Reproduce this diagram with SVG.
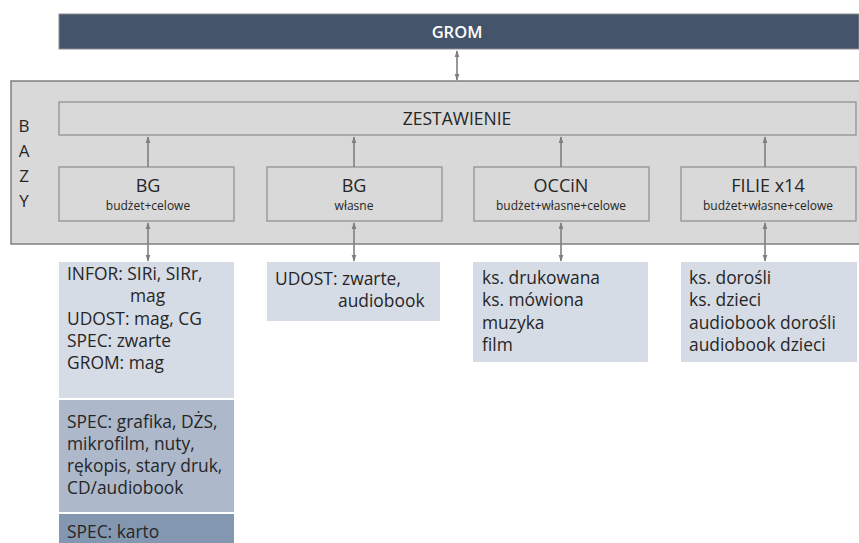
<svg xmlns="http://www.w3.org/2000/svg" width="859" height="543" viewBox="0 0 859 543">
<style>
text{font-family:"Open Sans","Noto Sans",sans-serif;fill:#262626}
.box{fill:#d9d9d9;stroke:#8c8c8c;stroke-width:1.2}
.t{font-size:18px;text-anchor:middle}
.s{font-size:12px;text-anchor:middle}
.l{font-size:17.4px}
.c{stroke:#7f7f7f;stroke-width:1.6;fill:none}
</style>
<defs>
<marker id="ah" viewBox="0 0 10 10" refX="9" refY="5" markerWidth="7" markerHeight="7" orient="auto-start-reverse" markerUnits="userSpaceOnUse">
<path d="M0,1.5 L10,5 L0,8.5 Z" fill="#7f7f7f"/>
</marker>
</defs>
<g id="grom"><rect x="59" y="14" width="800" height="35" fill="#44546a" stroke="#8c8c8c" stroke-width="1"/><text x="457" y="38" style="font-size:16.5px;font-weight:600;fill:#fff;text-anchor:middle">GROM</text></g>
<g id="bazy"><rect x="11" y="81" width="849" height="163" fill="#d9d9d9" stroke="#7f7f7f" stroke-width="1.5"/>
<text x="24" y="132" style="font-size:17px;text-anchor:middle">B</text>
<text x="24" y="157" style="font-size:17px;text-anchor:middle">A</text>
<text x="24" y="182" style="font-size:17px;text-anchor:middle">Z</text>
<text x="24" y="207" style="font-size:17px;text-anchor:middle">Y</text></g>
<g id="zestawienie"><rect class="box" x="59" y="102" width="797" height="33"/><text x="457" y="125" style="font-size:17.5px;text-anchor:middle">ZESTAWIENIE</text></g>
<g id="bg1"><rect class="box" x="59" y="167" width="175" height="54"/><text class="t" x="148" y="192">BG</text><text class="s" x="148" y="210">budżet+celowe</text></g>
<g id="bg2"><rect class="box" x="267" y="167" width="175" height="54"/><text class="t" x="354" y="192">BG</text><text class="s" x="354" y="210">własne</text></g>
<g id="occin"><rect class="box" x="474" y="167" width="175" height="54"/><text class="t" x="561" y="192">OCCiN</text><text class="s" x="561" y="210">budżet+własne+celowe</text></g>
<g id="filie"><rect class="box" x="681" y="167" width="175" height="54"/><text class="t" x="768" y="192">FILIE x14</text><text class="s" x="768" y="210">budżet+własne+celowe</text></g>
<g id="list-bg1">
<rect x="59" y="262" width="175" height="136" fill="#d6dce5"/>
<text class="l" x="67" y="280">INFOR: SIRi, SIRr,</text>
<text class="l" x="130" y="302">mag</text>
<text class="l" x="67" y="325">UDOST: mag, CG</text>
<text class="l" x="67" y="347">SPEC: zwarte</text>
<text class="l" x="67" y="369">GROM: mag</text>
</g>
<g id="list-bg1b">
<rect x="59" y="400" width="175" height="112" fill="#adb9ca"/>
<text class="l" x="67" y="428">SPEC: grafika, DŻS,</text>
<text class="l" x="67" y="450">mikrofilm, nuty,</text>
<text class="l" x="67" y="472">rękopis, stary druk,</text>
<text class="l" x="67" y="494">CD/audiobook</text>
</g>
<g id="list-bg1c">
<rect x="59" y="514" width="175" height="29" fill="#8497b0"/>
<text class="l" x="67" y="538">SPEC: karto</text>
</g>
<g id="list-bg2">
<rect x="267" y="262" width="173" height="59" fill="#d6dce5"/>
<text class="l" x="275" y="285">UDOST: zwarte,</text>
<text class="l" x="338" y="307">audiobook</text>
</g>
<g id="list-occin">
<rect x="473" y="262" width="175" height="100" fill="#d6dce5"/>
<text class="l" x="482" y="284">ks. drukowana</text>
<text class="l" x="482" y="306">ks. mówiona</text>
<text class="l" x="482" y="329">muzyka</text>
<text class="l" x="482" y="351">film</text>
</g>
<g id="list-filie">
<rect x="681" y="262" width="176" height="100" fill="#d6dce5"/>
<text class="l" x="689" y="284">ks. dorośli</text>
<text class="l" x="689" y="306">ks. dzieci</text>
<text class="l" x="689" y="329">audiobook dorośli</text>
<text class="l" x="689" y="351">audiobook dzieci</text>
</g>
<g id="connectors">
<line class="c" x1="457" y1="51" x2="457" y2="80" marker-start="url(#ah)" marker-end="url(#ah)"/>
<line class="c" x1="148" y1="167" x2="148" y2="137" marker-end="url(#ah)"/>
<line class="c" x1="354" y1="167" x2="354" y2="137" marker-end="url(#ah)"/>
<line class="c" x1="561" y1="167" x2="561" y2="137" marker-end="url(#ah)"/>
<line class="c" x1="765" y1="167" x2="765" y2="137" marker-end="url(#ah)"/>
<line class="c" x1="148" y1="223" x2="148" y2="261" marker-start="url(#ah)" marker-end="url(#ah)"/>
<line class="c" x1="354" y1="223" x2="354" y2="261" marker-start="url(#ah)" marker-end="url(#ah)"/>
<line class="c" x1="561" y1="223" x2="561" y2="261" marker-start="url(#ah)" marker-end="url(#ah)"/>
<line class="c" x1="765" y1="223" x2="765" y2="261" marker-start="url(#ah)" marker-end="url(#ah)"/>
</g>
</svg>
